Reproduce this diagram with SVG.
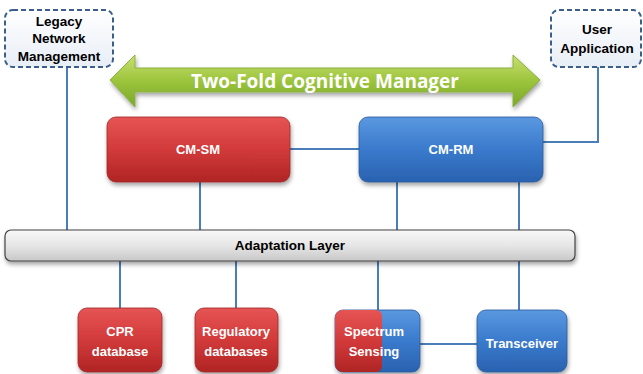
<svg xmlns="http://www.w3.org/2000/svg" width="643" height="374" viewBox="0 0 643 374">
<defs>
<linearGradient id="red" x1="0" y1="0" x2="0" y2="1"><stop offset="0" stop-color="#e65454"/><stop offset="0.5" stop-color="#d23a3a"/><stop offset="1" stop-color="#b02424"/></linearGradient>
<linearGradient id="blue" x1="0" y1="0" x2="0" y2="1"><stop offset="0" stop-color="#5a98e0"/><stop offset="0.5" stop-color="#3a7acc"/><stop offset="1" stop-color="#2a62b0"/></linearGradient>
<linearGradient id="grey" x1="0" y1="0" x2="0" y2="1"><stop offset="0" stop-color="#f8f8f8"/><stop offset="0.5" stop-color="#e6e6e6"/><stop offset="1" stop-color="#c8c8c8"/></linearGradient>
<linearGradient id="green" x1="0" y1="0" x2="0" y2="1"><stop offset="0" stop-color="#c8e070"/><stop offset="0.5" stop-color="#9cc43c"/><stop offset="1" stop-color="#7aa82a"/></linearGradient>
<linearGradient id="pale" x1="0" y1="0" x2="0" y2="1"><stop offset="0" stop-color="#ffffff"/><stop offset="1" stop-color="#e8eef6"/></linearGradient>
<filter id="sh" x="-10%" y="-10%" width="130%" height="140%"><feDropShadow dx="1" dy="3" stdDeviation="2" flood-color="#000" flood-opacity="0.35"/></filter>
<clipPath id="ssclip"><rect x="335" y="310" width="85" height="62" rx="8"/></clipPath>
</defs>
<style>
.t{font-family:"Liberation Sans",Arial,sans-serif;font-weight:bold;font-size:13px;text-anchor:middle;fill:#fff}
.d{font-family:"Liberation Sans",Arial,sans-serif;font-weight:bold;font-size:13.5px;text-anchor:middle;fill:#000}
.c{stroke:#4a7ebb;stroke-width:2;fill:none}
.dash{fill:url(#pale);stroke:#3b5f8a;stroke-width:2;stroke-dasharray:5 3}
.r{fill:url(#red);stroke:#a02828;stroke-width:0.8;filter:url(#sh)}
.b{fill:url(#blue);stroke:#2a5a9a;stroke-width:0.8;filter:url(#sh)}
</style>
<g id="connectors">
<path class="c" d="M67 68V231"/>
<path class="c" d="M598 65V142H543"/>
<path class="c" d="M290 149H359"/>
<path class="c" d="M200 182V231"/>
<path class="c" d="M397 182V231"/>
<path class="c" d="M519 182V231"/>
<path class="c" d="M120 261V310"/>
<path class="c" d="M236 261V310"/>
<path class="c" d="M378 261V312"/>
<path class="c" d="M519 261V312"/>
<path class="c" d="M420 344H477"/>
</g>
<g id="legacy">
<rect class="dash" x="5" y="10" width="108" height="57" rx="8"/>
<text class="d" x="59" y="26">Legacy</text>
<text class="d" x="59" y="43">Network</text>
<text class="d" x="59" y="61">Management</text>
</g>
<g id="user">
<rect class="dash" x="551" y="10" width="90" height="57" rx="8"/>
<text class="d" x="597" y="34" font-size="14.5">User</text>
<text class="d" x="597" y="53" font-size="14.5">Application</text>
</g>
<g id="manager">
<path d="M110 80L135 55V68H513V55L540 80L513 107V92H135V107Z" fill="url(#green)" stroke="#8cb040" stroke-width="1" filter="url(#sh)"/>
<text x="325" y="88" font-family="'Open Sans','Liberation Sans',sans-serif" font-weight="bold" font-size="19" fill="#fff" text-anchor="middle">Two-Fold Cognitive Manager</text>
</g>
<g id="cmsm">
<rect class="r" x="107" y="117" width="183" height="65" rx="9"/>
<text class="t" x="198" y="154">CM-SM</text>
</g>
<g id="cmrm">
<rect class="b" x="359" y="117" width="184" height="65" rx="9"/>
<text class="t" x="451" y="154">CM-RM</text>
</g>
<g id="adaptation">
<rect x="5" y="230" width="570" height="31" rx="6" fill="url(#grey)" stroke="#444" stroke-width="1.2" filter="url(#sh)"/>
<text class="d" x="290" y="250" font-size="13">Adaptation Layer</text>
</g>
<g id="cpr">
<rect class="r" x="78" y="308" width="84" height="64" rx="9"/>
<text class="t" x="120" y="336">CPR</text>
<text class="t" x="120" y="356">database</text>
</g>
<g id="regulatory">
<rect class="r" x="195" y="308" width="83" height="64" rx="9"/>
<text class="t" x="236" y="336">Regulatory</text>
<text class="t" x="236" y="356">databases</text>
</g>
<g id="spectrum">
<rect class="b" x="335" y="310" width="85" height="62" rx="8"/>
<rect x="335" y="310" width="47" height="62" rx="6" fill="url(#red)" clip-path="url(#ssclip)"/>
<text class="t" x="374" y="336">Spectrum</text>
<text class="t" x="374" y="356">Sensing</text>
</g>
<g id="transceiver">
<rect class="b" x="477" y="310" width="90" height="62" rx="9"/>
<text class="t" x="522" y="348">Transceiver</text>
</g>
</svg>
